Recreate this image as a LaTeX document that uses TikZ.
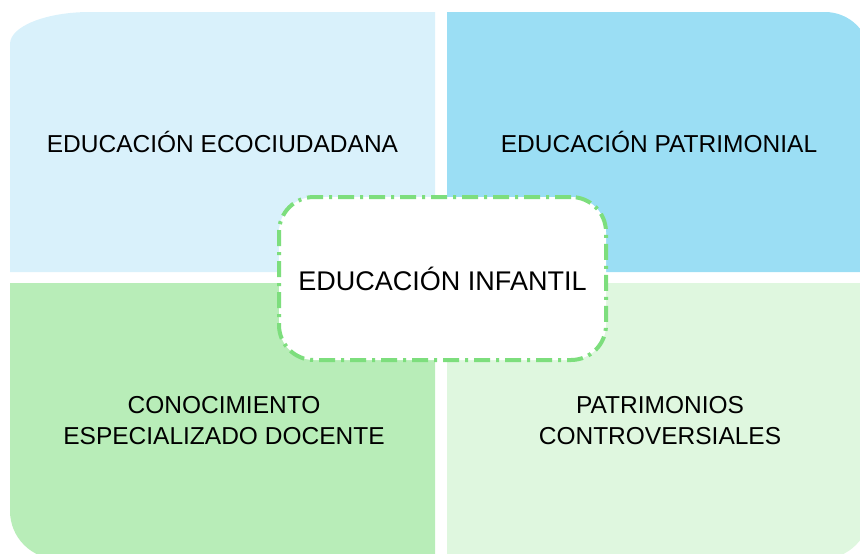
\documentclass[tikz,border=0pt]{standalone}
\usepackage{fontspec}
\setmainfont{Liberation Sans}
\definecolor{ecoblue}{HTML}{D9F1FB}
\definecolor{patblue}{HTML}{9BDEF4}
\definecolor{docgreen}{HTML}{B8EDB8}
\definecolor{contgreen}{HTML}{DFF7DF}
\definecolor{dashgreen}{HTML}{7DDE7D}
\begin{document}
\begin{tikzpicture}[x=1pt,y=-1pt,
		label/.style={align=center,text=black,font=\fontsize{24.5}{31}\selectfont},
		centerbox/.style={draw=dashgreen,fill=white,line width=4pt,rounded corners=35pt,
			dash pattern=on 16pt off 6pt on 3pt off 6pt,minimum width=327pt,minimum height=163pt,
			font=\fontsize{27}{32}\selectfont}]
		\useasboundingbox (0,0) rectangle (860,554);
		\clip (0,0) rectangle (860,554);
		\fill[ecoblue] (10,272) -- (10,44) arc[start angle=180,end angle=270,x radius=80,y radius=32] -- (435,12) -- (435,272) -- cycle;
		\fill[patblue] (447,272) -- (447,12) -- (825,12) arc[start angle=270,end angle=360,radius=45] -- (870,272) -- cycle;
		\fill[docgreen] (435,283) -- (10,283) -- (10,511) arc[start angle=180,end angle=90,radius=48] -- (435,559) -- cycle;
		\fill[contgreen] (447,283) -- (447,559) -- (822,559) arc[start angle=90,end angle=0,radius=48] -- (870,283) -- cycle;
		\node [label] (ecociudadana) at (222.5,142) {EDUCACIÓN ECOCIUDADANA};
		\node [label] (patrimonial) at (659,142) {EDUCACIÓN PATRIMONIAL};
		\node [label] (conocimiento) at (224,421) {CONOCIMIENTO\\ESPECIALIZADO DOCENTE};
		\node [label] (controversiales) at (660,421) {PATRIMONIOS\\CONTROVERSIALES};
		\node [centerbox] (infantil) at (442.5,278.5) {EDUCACIÓN INFANTIL};
	\end{tikzpicture}
\end{document}
